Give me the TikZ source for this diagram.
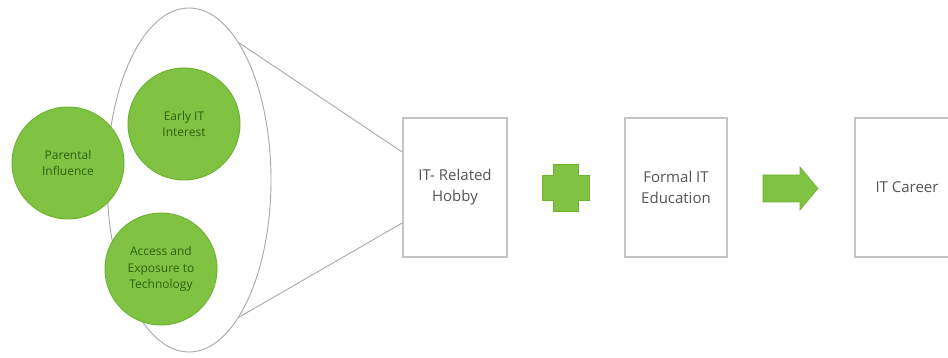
\documentclass[tikz,border=0pt]{standalone}
\usepackage{fontspec}
\setmainfont{Open Sans}
\usetikzlibrary{shapes.geometric}
\definecolor{gfill}{HTML}{80C342}
\definecolor{gline}{HTML}{6FB236}
\definecolor{gtext}{HTML}{2F5F12}
\definecolor{boxline}{HTML}{C4C4C4}
\definecolor{ellline}{HTML}{A8A8A8}
\definecolor{btext}{HTML}{555555}
\tikzset{
  factor/.style={circle, fill=gfill, draw=gline, line width=1pt, minimum size=112pt, inner sep=0pt,
    align=center, text=gtext, font=\fontsize{12pt}{16.5pt}\selectfont},
  stagebox/.style={rectangle, draw=boxline, line width=1.6pt, minimum height=139pt, inner sep=0pt,
    align=center, text=btext, font=\fontsize{15pt}{21pt}\selectfont},
  funnel/.style={draw=ellline, line width=0.9pt},
  greenshape/.style={fill=gfill, draw=gline, line width=0.6pt},
}
\begin{document}
\begin{tikzpicture}[x=1pt,y=1pt]
\clip (0,0) rectangle (948,358);
\fill[white] (0,0) rectangle (948,358);
\node[ellipse, funnel, minimum width=164pt, minimum height=344pt, inner sep=0pt] (ell) at (189,178) {};
\node[factor] (par) at (68,195) {Parental\\Influence};
\node[factor] (early) at (184,234) {Early IT\\Interest};
\node[factor] (acc) at (161,89) {Access and\\Exposure to\\Technology};
\node[stagebox, minimum width=104pt] (hobby) at (455,170.5) {IT- Related\\Hobby};
\node[stagebox, minimum width=102pt] (edu) at (676,170.5) {Formal IT\\Education};
\node[stagebox, minimum width=104pt] (career) at (907,170.5) {IT Career};
\coordinate (ht) at ([yshift=35.5pt]hobby.west);
\coordinate (hb) at ([yshift=-35.5pt]hobby.west);
\draw[funnel] (ell.70.5) -- (ht);
\draw[funnel] (ell.-70.5) -- (hb);
\coordinate (plus) at (566,170);
\path[greenshape]
  ([shift={(-12.5,23.5)}]plus) -- ([shift={(12.5,23.5)}]plus) -- ([shift={(12.5,12.5)}]plus)
  -- ([shift={(23.5,12.5)}]plus) -- ([shift={(23.5,-12.5)}]plus) -- ([shift={(12.5,-12.5)}]plus)
  -- ([shift={(12.5,-23.5)}]plus) -- ([shift={(-12.5,-23.5)}]plus) -- ([shift={(-12.5,-12.5)}]plus)
  -- ([shift={(-23.5,-12.5)}]plus) -- ([shift={(-23.5,12.5)}]plus) -- ([shift={(-12.5,12.5)}]plus) -- cycle;
\coordinate (arr) at (763,169.5);
\path[greenshape]
  ([shift={(0,13.5)}]arr) -- ([shift={(37,13.5)}]arr) -- ([shift={(37,21.5)}]arr)
  -- ([shift={(55,0)}]arr) -- ([shift={(37,-21.5)}]arr) -- ([shift={(37,-13.5)}]arr)
  -- ([shift={(0,-13.5)}]arr) -- cycle;
\end{tikzpicture}
\end{document}
